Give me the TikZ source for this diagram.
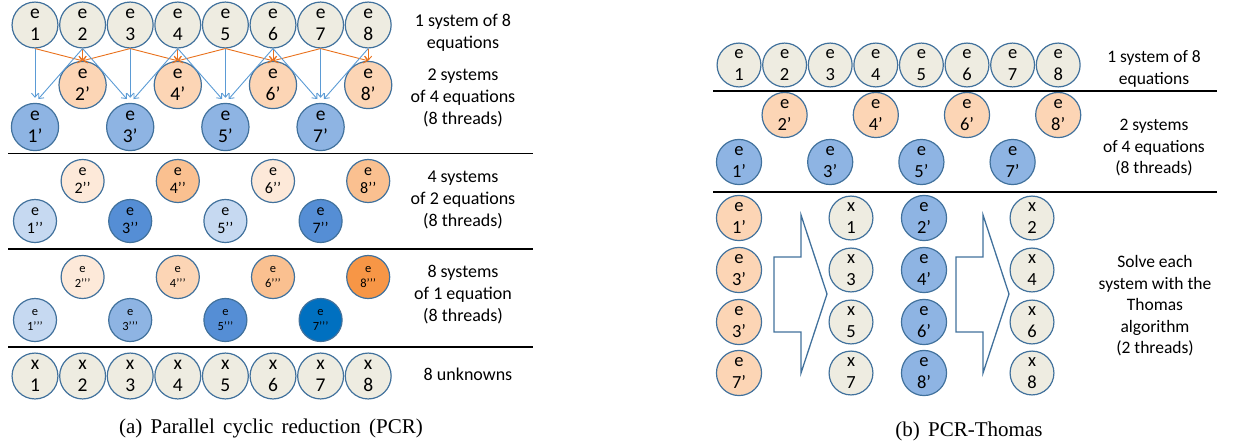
\documentclass[tikz,border=0pt]{standalone}
\usepackage{fontspec}
\setmainfont{Carlito}
\newfontfamily\capfont{Liberation Serif}
\usetikzlibrary{arrows.meta}
\definecolor{beige}{HTML}{EEECE1}
\definecolor{circ}{HTML}{41719C}
\definecolor{orA}{HTML}{FDE9D9}
\definecolor{orB}{HTML}{FCD5B5}
\definecolor{orC}{HTML}{FAC090}
\definecolor{orD}{HTML}{F79646}
\definecolor{blA}{HTML}{C6D9F1}
\definecolor{blB}{HTML}{8EB4E3}
\definecolor{blC}{HTML}{558ED5}
\definecolor{blD}{HTML}{0070C0}
\definecolor{orarr}{HTML}{E9711C}
\definecolor{blarr}{HTML}{5B9BD5}
\newcommand\twol[2]{\strut #1\\\strut #2}
\begin{document}
\begin{tikzpicture}[x=1pt,y=-1pt,
  eqn/.style={circle, draw=circ, line width=1.2pt, minimum size=43pt, inner sep=0pt, align=center, font=\fontsize{19.5}{22.5}\selectfont},
  eqr/.style={eqn, minimum size=41pt, font=\fontsize{18.5}{21.5}\selectfont},
  smalltwo/.style={font=\fontsize{16}{17.5}\selectfont},
  smallthree/.style={font=\fontsize{12.5}{14.5}\selectfont},
  lbl/.style={align=center, font=\fontsize{18}{22}\selectfont, inner sep=0pt},
  lblr/.style={align=center, font=\fontsize{17.5}{21.5}\selectfont, inner sep=0pt},
  sepline/.style={line width=1.5pt, black},
  oarr/.style={draw=orarr, line width=0.9pt, -{Straight Barb[length=4pt,width=7pt]}},
  barr/.style={draw=blarr, line width=0.9pt, -{Straight Barb[length=4pt,width=7pt]}, shorten >=5pt},
  bigarrow/.style={draw=circ, line width=1.3pt, fill=white, line join=miter},
  capt/.style={font=\capfont\fontsize{21}{24}\selectfont, execute at begin node={\spaceskip=8.3pt\relax}, inner sep=0pt}]
\useasboundingbox (0,0) rectangle (1239,442);
% ---------- (a) PCR ----------
\foreach \i in {1,...,8}
  \node[eqn, fill=beige] (a\i) at ({35+47.6*(\i-1)},25) {\twol{e}{\i}};
\foreach \i in {2,4,6,8}
  \node[eqn, fill=orB] (b\i) at ({35+47.6*(\i-1)},85) {\twol{e}{\i’}};
\foreach \i in {1,3,5,7}
  \node[eqn, fill=blB] (b\i) at ({35+47.6*(\i-1)},127) {\twol{e}{\i’}};
\foreach \s/\t in {1/2,2/2,3/2,3/4,4/4,5/4,5/6,6/6,7/6,7/8,8/8}
  \draw[oarr] (a\s.south) -- (b\t.north);
\foreach \s/\t in {1/1,2/1,2/3,3/3,4/3,4/5,5/5,6/5,6/7,7/7,8/7}
  \draw[barr] (a\s.south) -- (b\t.north);
\draw[sepline] (8,153.5) -- (533,153.5);
% section 2
\foreach \i/\c in {2/orA,4/orC,6/orA,8/orC}
  \node[eqn, smalltwo, fill=\c] (c\i) at ({35+47.6*(\i-1)},181) {\twol{e}{\i’’}};
\foreach \i/\c in {1/blA,3/blC,5/blA,7/blC}
  \node[eqn, smalltwo, fill=\c] (c\i) at ({35+47.6*(\i-1)},221) {\twol{e}{\i’’}};
\draw[sepline] (8,249) -- (533,249);
% section 3
\foreach \i/\c in {2/orA,4/orB,6/orC,8/orD}
  \node[eqn, smallthree, fill=\c] (d\i) at ({35+47.6*(\i-1)},277) {\twol{e}{\i’’’}};
\foreach \i/\c in {1/blA,3/blB,5/blC,7/blD}
  \node[eqn, smallthree, fill=\c] (d\i) at ({35+47.6*(\i-1)},320) {\twol{e}{\i’’’}};
\draw[sepline] (8,347) -- (533,347);
% unknowns
\foreach \i in {1,...,8}
  \node[eqn, fill=beige] (x\i) at ({35+47.6*(\i-1)},376) {\twol{x}{\i}};
% labels
\node[lbl] (la1) at (463,33) {1 system of 8\\equations};
\node[lbl] (la2) at (463,98) {2 systems\\of 4 equations\\(8 threads)};
\node[lbl] (la3) at (463,199.5) {4 systems\\of 2 equations\\(8 threads)};
\node[lbl] (la4) at (463,294.5) {8 systems\\of 1 equation\\(8 threads)};
\node[lbl] (la5) at (468,374) {8 unknowns};
\node[capt] (capa) at (271,428) {(a) Parallel cyclic reduction (PCR)};
% ---------- (b) PCR-Thomas ----------
\foreach \i in {1,...,8}
  \node[eqr, fill=beige] (r\i) at ({739+45.6*(\i-1)},65) {\twol{e}{\i}};
\foreach \i in {2,4,6,8}
  \node[eqr, fill=orB] (s\i) at ({739+45.6*(\i-1)},115) {\twol{e}{\i’}};
\foreach \i in {1,3,5,7}
  \node[eqr, fill=blB] (s\i) at ({739+45.6*(\i-1)},162) {\twol{e}{\i’}};
\draw[sepline] (713,91) -- (1217,91);
\draw[sepline] (713,192) -- (1217,192);
\foreach \n/\y/\a/\b/\c in {1/218/1/2/1, 2/270/3/4/3, 3/322/3/6/5, 4/373/7/8/7}{
  \node[eqr, fill=orB] (t\n) at (739,\y) {\twol{e}{\a’}};
  \node[eqr, fill=beige] (u\n) at (851,\y) {\twol{x}{\c}};
  \node[eqr, fill=blB] (v\n) at (924,\y) {\twol{e}{\b’}};
  \node[eqr, fill=beige] (w\n) at (1032,\y) {\twol{x}{\b}};
}
\draw[bigarrow] (774,257) -- (801,257) -- (801,215) -- (827,294) -- (801,373) -- (801,332) -- (774,332) -- cycle;
\draw[bigarrow] (956,257) -- (983,257) -- (983,215) -- (1009,294) -- (983,373) -- (983,332) -- (956,332) -- cycle;
\node[lblr] (lb1) at (1154,69) {1 system of 8\\equations};
\node[lblr] (lb2) at (1154,148) {2 systems\\of 4 equations\\(8 threads)};
\node[lblr] (lb3) at (1155,306) {Solve each\\system with the\\Thomas\\algorithm\\(2 threads)};
\node[capt] (capb) at (969,431) {(b) PCR-Thomas};
\end{tikzpicture}
\end{document}
